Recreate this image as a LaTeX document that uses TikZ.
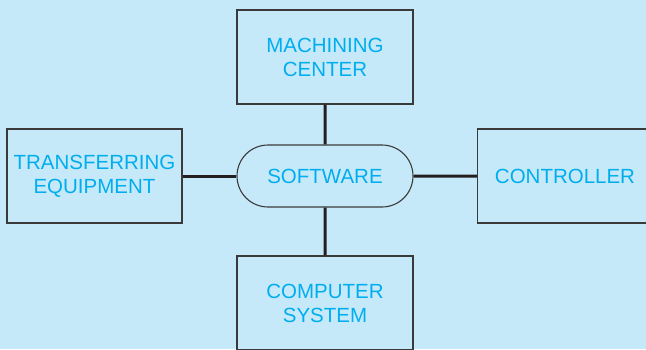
\documentclass[tikz,border=0pt]{standalone}
\usepackage{fontspec}
\setmainfont{Liberation Sans}
\usepackage{xcolor}
\usepackage{tikz}
\usetikzlibrary{shapes.misc}
\definecolor{FmsSky}{HTML}{C6E9F9}
\definecolor{FmsCyan}{HTML}{00AEEF}
\definecolor{FmsEdge}{HTML}{3A3A3A}
\definecolor{FmsLink}{HTML}{231F20}

\begin{document}
\begin{tikzpicture}[x=1pt,y=-1pt,
    unit/.style={draw=FmsEdge,line width=1.1pt,fill=FmsSky,text=FmsCyan,
      minimum width=176pt,minimum height=94pt,inner sep=0pt,align=center,
      font=\fontsize{20.5}{24}\selectfont},
    hub/.style={unit,rounded rectangle,minimum height=62pt},
    link/.style={draw=FmsLink,line width=3pt}]
  \clip (0,0) rectangle (646,349);
  \fill[FmsSky] (0,0) rectangle (646,349);
  \node[hub] (software) at (325,176) {SOFTWARE};
  \node[unit] (machining) at (325,57) {MACHINING\\CENTER};
  \node[unit,minimum width=175pt] (transfer) at (94.5,176) {TRANSFERRING\\EQUIPMENT};
  \node[unit,minimum width=175pt] (controller) at (565,176) {CONTROLLER};
  \node[unit] (computer) at (325,303) {COMPUTER\\SYSTEM};
  \draw[link] (software) -- (machining);
  \draw[link] (software) -- (transfer);
  \draw[link] (software) -- (controller);
  \draw[link] (software) -- (computer);
\end{tikzpicture}
\end{document}
